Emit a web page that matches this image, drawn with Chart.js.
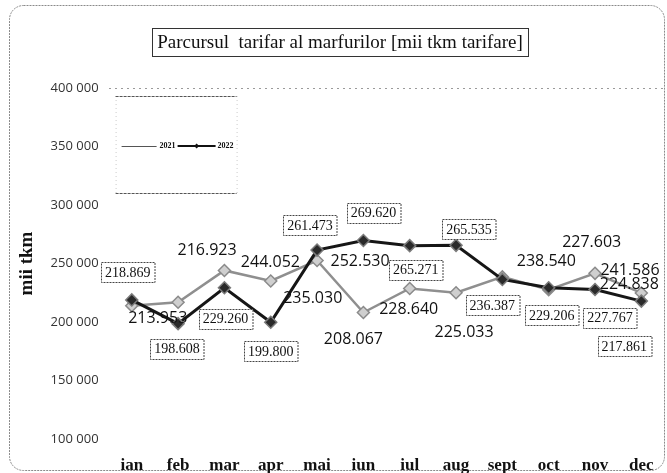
<!DOCTYPE html>
<html>
<head>
<meta charset="utf-8">
<script src="https://cdn.jsdelivr.net/npm/chart.js@4.4.0/dist/chart.umd.min.js"></script>
<style>
  html, body { margin: 0; padding: 0; background: #fff; overflow: hidden; }
  #wrap { position: relative; width: 672px; height: 473px; }
</style>
</head>
<body>
<div id="wrap"><canvas id="line-chart"></canvas></div>
<script>
let months = ['ian', 'feb', 'mar', 'apr', 'mai', 'iun', 'iul', 'aug', 'sept', 'oct', 'nov', 'dec'];
let tkm2021 = [213953, 216923, 244052, 235030, 252530, 208067, 228640, 225033, 238540, 227603, 241586, 224838];
let tkm2022 = [218869, 198608, 229260, 199800, 261473, 269620, 265271, 265535, 236387, 229206, 227767, 217861];
let yTicks = [100000, 150000, 200000, 250000, 300000, 350000, 400000];

// where each value label sits relative to its point (px)
let shift2021 = [[26,13],[29,-52],[46,-8],[42,17],[43,1],[-10,27],[-1,21],[8,40],[44,-15],[43,-47],[35,-3],[-12,-9]];
let shift2022 = [[-4,-28],[-1,25],[1,31],[0,29],[-7,-25],[10,-28],[6,24],[13,-16],[-10,26],[3,27],[15,28],[-17,45]];

let dotted = v => String(v).replace(/\B(?=(\d{3})+(?!\d))/g, '.');
let spaced = v => String(v).replace(/\B(?=(\d{3})+(?!\d))/g, ' ');

// outer rounded frame + boxed title
let framePlugin = {
    id: 'frame',
    beforeDraw(chart){
        let ctx = chart.ctx;
        ctx.save();
        ctx.fillStyle = '#fff';
        ctx.fillRect(0, 0, chart.width, chart.height);
        ctx.strokeStyle = '#8a8a8a';
        ctx.lineWidth = 1;
        ctx.setLineDash([2, 1]);
        ctx.beginPath();
        ctx.roundRect(9.5, 5.5, 655, 465, 14);
        ctx.stroke();
        ctx.restore();
    },
    afterDraw(chart){
        let ctx = chart.ctx;
        let title = 'Parcursul  tarifar al marfurilor [mii tkm tarifare]';
        ctx.save();
        ctx.font = '19px "Liberation Serif"';
        let w = ctx.measureText(title).width;
        let cx = 340;
        ctx.fillStyle = '#fff';
        ctx.fillRect(cx - w/2 - 5, 28, w + 10, 28);
        ctx.strokeStyle = '#333';
        ctx.lineWidth = 1;
        ctx.strokeRect(Math.round(cx - w/2 - 5) + 0.5, 28.5, Math.round(w + 10), 28);
        ctx.fillStyle = '#111';
        ctx.textAlign = 'center';
        ctx.textBaseline = 'middle';
        ctx.fillText(title, cx, 43);
        ctx.restore();
    }
};

// small legend box inside the plot
let legendPlugin = {
    id: 'legendBox',
    afterDraw(chart){
        let ctx = chart.ctx;
        let a = chart.chartArea;
        let x0 = a.left + 7, y0 = a.top + 8, w = 121, h = 97;
        let my = y0 + 50;
        ctx.save();
        ctx.lineWidth = 1;
        ctx.strokeStyle = '#ccc';
        ctx.setLineDash([1, 3]);
        ctx.beginPath();
        ctx.moveTo(x0 + 0.5, y0); ctx.lineTo(x0 + 0.5, y0 + h);
        ctx.moveTo(x0 + w + 0.5, y0); ctx.lineTo(x0 + w + 0.5, y0 + h);
        ctx.stroke();
        ctx.strokeStyle = '#555';
        ctx.setLineDash([3, 1]);
        ctx.beginPath();
        ctx.moveTo(x0, y0 + 0.5); ctx.lineTo(x0 + w, y0 + 0.5);
        ctx.moveTo(x0, y0 + h + 0.5); ctx.lineTo(x0 + w, y0 + h + 0.5);
        ctx.stroke();
        ctx.setLineDash([]);

        ctx.strokeStyle = '#555';
        ctx.lineWidth = 1;
        ctx.beginPath();
        ctx.moveTo(x0 + 6, my + 0.5); ctx.lineTo(x0 + 41, my + 0.5);
        ctx.stroke();
        ctx.strokeStyle = '#111';
        ctx.lineWidth = 2;
        ctx.beginPath();
        ctx.moveTo(x0 + 62, my); ctx.lineTo(x0 + 100, my);
        ctx.stroke();
        ctx.fillStyle = '#111';
        ctx.beginPath();
        ctx.moveTo(x0 + 81, my - 2.5); ctx.lineTo(x0 + 83.5, my);
        ctx.lineTo(x0 + 81, my + 2.5); ctx.lineTo(x0 + 78.5, my);
        ctx.fill();

        ctx.font = 'bold 8px "Liberation Serif"';
        ctx.textBaseline = 'middle';
        ctx.fillText('2021', x0 + 44, my);
        ctx.fillText('2022', x0 + 102, my);
        ctx.restore();
    }
};

// value labels: 2022 in boxes, 2021 plain
let labelPlugin = {
    id: 'valueLabels',
    afterDatasetsDraw(chart){
        let ctx = chart.ctx;
        ctx.save();
        ctx.textAlign = 'center';
        ctx.textBaseline = 'middle';

        let m21 = chart.getDatasetMeta(0);
        ctx.font = '16px "Open Sans"';
        ctx.fillStyle = '#111';
        m21.data.forEach((pt, i) => {
            ctx.fillText(dotted(tkm2021[i]), pt.x + shift2021[i][0], pt.y + shift2021[i][1]);
        });

        let m22 = chart.getDatasetMeta(1);
        ctx.font = '14px "Liberation Serif"';
        m22.data.forEach((pt, i) => {
            let txt = dotted(tkm2022[i]);
            let cx = pt.x + shift2022[i][0], cy = pt.y + shift2022[i][1];
            let w = ctx.measureText(txt).width + 8;
            let bx = Math.round(cx - w/2) + 0.5, by = Math.round(cy - 10) + 0.5;
            ctx.fillStyle = '#fff';
            ctx.fillRect(bx, by, w, 20);
            ctx.strokeStyle = '#444';
            ctx.lineWidth = 1;
            ctx.setLineDash([2, 1]);
            ctx.strokeRect(bx, by, w, 20);
            ctx.setLineDash([]);
            ctx.fillStyle = '#111';
            ctx.fillText(txt, cx, cy + 1);
        });
        ctx.restore();
    }
};

let config = {
    type: 'line',
    data: {
        labels: months,
        datasets: [
        {
            label: '2021',
            data: tkm2021,
            borderColor: '#8f8f8f',
            borderWidth: 2.5,
            backgroundColor: '#cfcfcf',
            pointStyle: 'rectRot',
            pointRadius: 6,
            pointBorderColor: '#8a8a8a',
            pointBorderWidth: 1.5,
            tension: 0,
            order: 2
        },
        {
            label: '2022',
            data: tkm2022,
            borderColor: '#161616',
            borderWidth: 3,
            backgroundColor: '#2a2a2a',
            pointStyle: 'rectRot',
            pointRadius: 6,
            pointBorderColor: '#7a7a7a',
            pointBorderWidth: 1.5,
            tension: 0,
            order: 1
        }]
    },
    options: {
        responsive: true,
        maintainAspectRatio: false,
        animation: false,
        layout: { padding: { left: 8, right: 0, top: 88, bottom: 0 } },
        plugins: {
            legend: { display: false },
            title: { display: false },
            tooltip: { enabled: false }
        },
        scales: {
            x: {
                offset: true,
                grid: { display: false, drawTicks: false },
                border: { display: false },
                ticks: {
                    padding: 16,
                    color: '#111',
                    font: { family: '"Liberation Serif"', size: 17, weight: 'bold' },
                    maxRotation: 0,
                    autoSkip: false
                },
                afterFit(scale){ scale.height = 34; }
            },
            y: {
                min: yTicks[0],
                max: yTicks[yTicks.length - 1],
                ticks: {
                    stepSize: yTicks[1] - yTicks[0],
                    padding: 10,
                    color: '#333',
                    font: { family: '"Open Sans"', size: 13 },
                    callback: v => spaced(v)
                },
                grid: {
                    drawTicks: false,
                    color: c => c.tick && c.tick.value === yTicks[yTicks.length - 1] ? '#9a9a9a' : 'rgba(0,0,0,0)'
                },
                border: { display: false, dash: [2, 4] },
                title: {
                    display: true,
                    text: 'mii tkm',
                    color: '#111',
                    padding: { top: 8, bottom: 0 },
                    font: { family: '"Liberation Serif"', size: 19, weight: 'bold' }
                },
                afterFit(scale){ scale.width = 100.6; }
            }
        }
    },
    plugins: [framePlugin, labelPlugin, legendPlugin]
};

let myChart = new Chart(document.querySelector('#line-chart'), config);
</script>
</body>
</html>
